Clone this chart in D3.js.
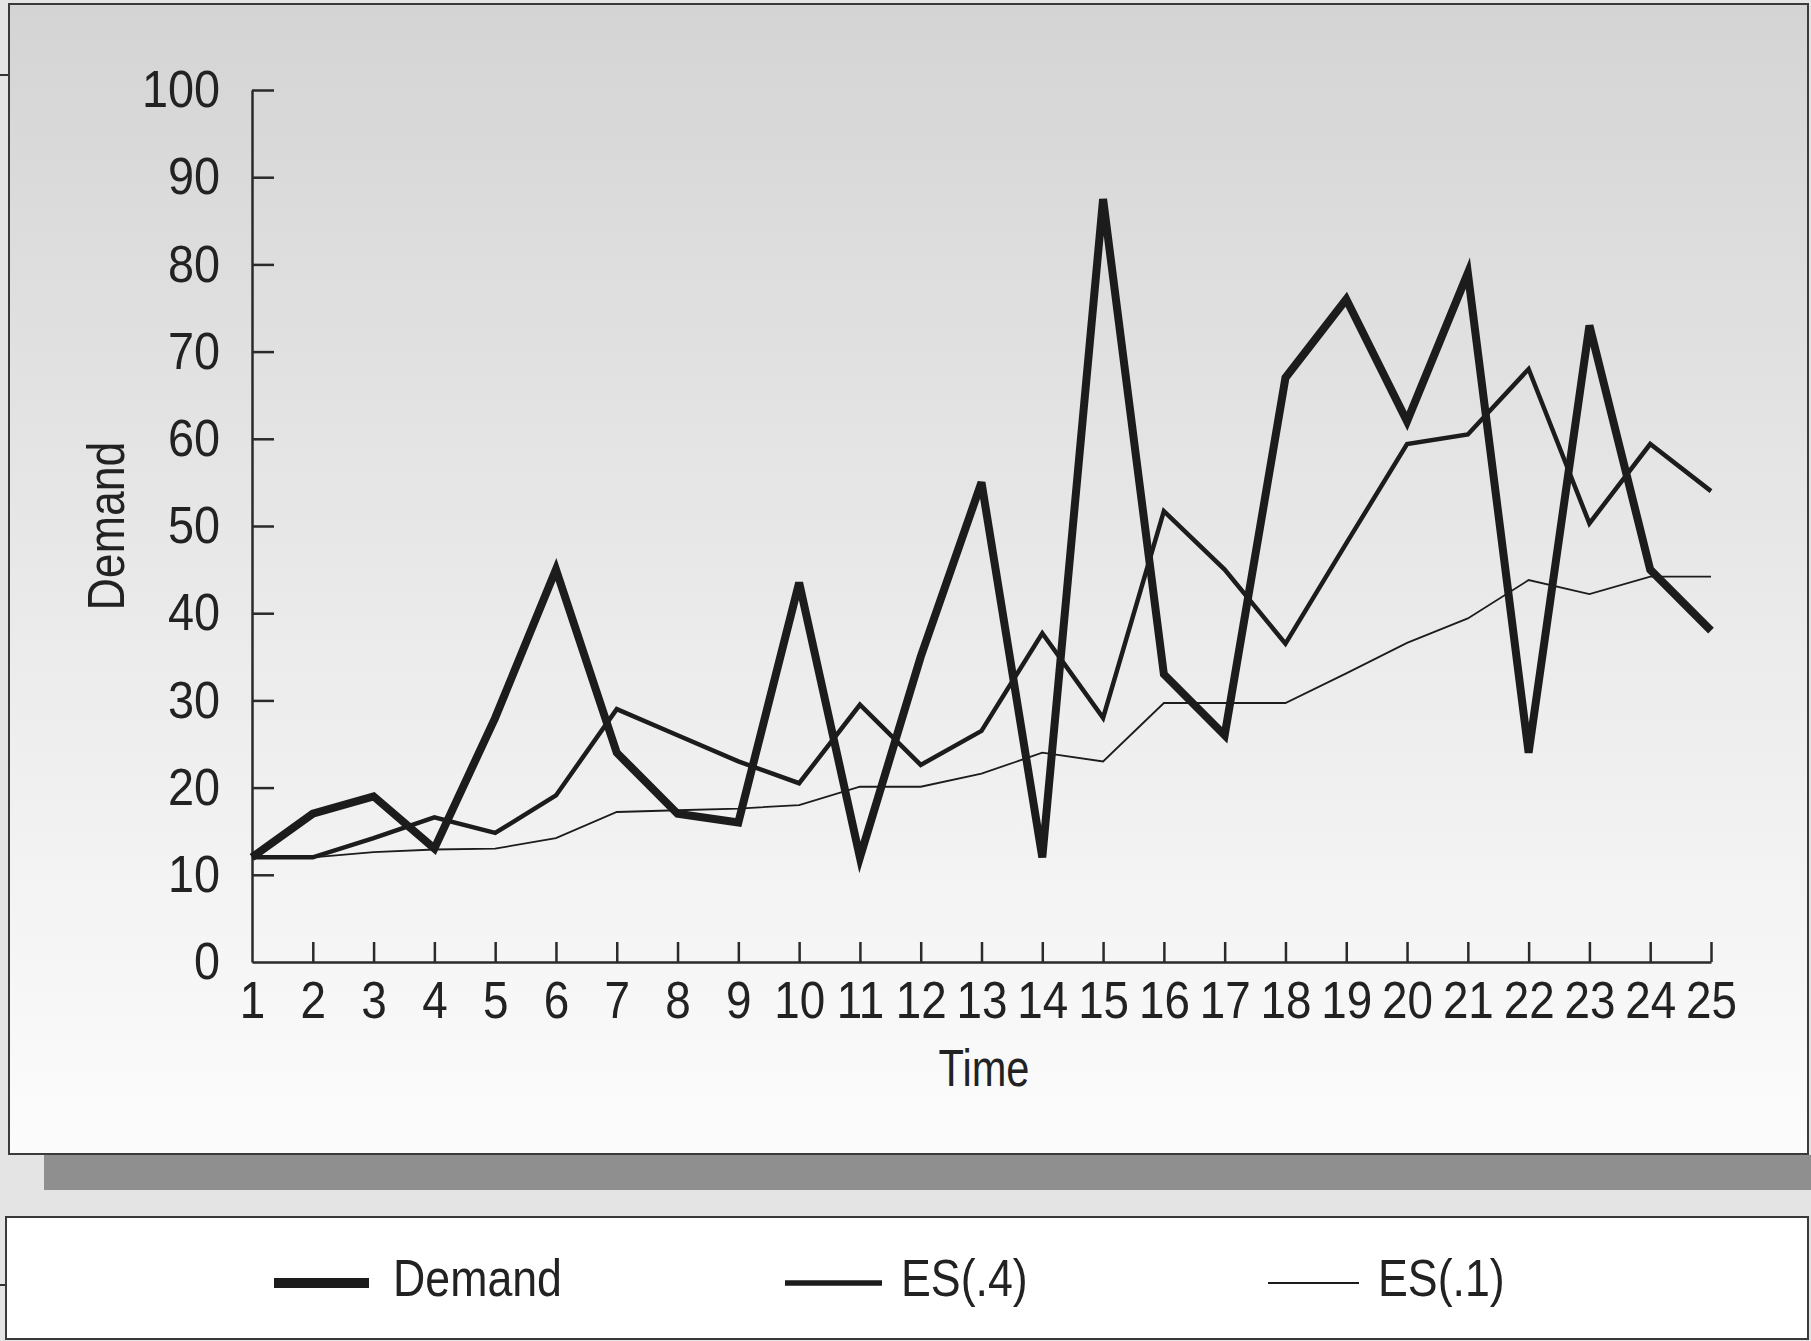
<!DOCTYPE html>
<html>
<head>
<meta charset="utf-8">
<script src="https://cdn.jsdelivr.net/npm/d3@7"></script>
<style>
  html, body { margin: 0; padding: 0; background: #e4e4e4; }
  svg { display: block; }
  text { font-family: "Liberation Sans", Arial, sans-serif; fill: #222; }
</style>
</head>
<body>
<svg id="chart" width="1811" height="1341"></svg>
<script>
// Periods on the time axis
const times = [1, 2, 3, 4, 5, 6, 7, 8, 9, 10, 11, 12, 13, 14, 15, 16, 17, 18, 19, 20, 21, 22, 23, 24, 25];
// Observed demand per period
const demand = [12, 17, 19, 13, 28, 45, 24, 17, 16, 43.5, 12, 35, 55, 12, 87.5, 33, 26, 67, 76, 62, 79, 24, 73, 45, 38];
// Exponential smoothing forecast, alpha = 0.4
const es04 = [12, 12, 14.2, 16.6, 14.8, 19.1, 29, 26, 23, 20.5, 29.5, 22.6, 26.5, 37.7, 28, 51.7, 45, 36.5, 48, 59.4, 60.5, 68, 50.3, 59.4, 54];
// Exponential smoothing forecast, alpha = 0.1
const es01 = [12, 12, 12.6, 12.9, 13, 14.2, 17.2, 17.4, 17.6, 18, 20.1, 20.1, 21.6, 24, 23, 29.7, 29.7, 29.7, 33.1, 36.6, 39.4, 43.8, 42.2, 44.2, 44.2];
// Value axis ticks
const yTicks = [0, 10, 20, 30, 40, 50, 60, 70, 80, 90, 100];

const seriesList = [
  { name: "Demand", values: demand, width: 8, legendWidth: 10 },
  { name: "ES(.4)", values: es04, width: 4.5, legendWidth: 5.5 },
  { name: "ES(.1)", values: es01, width: 1.8, legendWidth: 1.8 }
];

const svg = d3.select("#chart");
const ink = "#1c1c1c";
const FONT_SIZE = 52;

// Squeeze glyphs horizontally for a condensed look
function condense(sel, factor) {
  sel.each(function () {
    const w = this.getComputedTextLength();
    d3.select(this)
      .attr("textLength", (w * factor).toFixed(1))
      .attr("lengthAdjust", "spacingAndGlyphs");
  });
}

// Background gradient of the chart panel
const defs = svg.append("defs");
const grad = defs.append("linearGradient")
  .attr("id", "panelFill").attr("x1", 0).attr("y1", 0).attr("x2", 0).attr("y2", 1);
grad.append("stop").attr("offset", "0%").attr("stop-color", "#d4d4d4");
grad.append("stop").attr("offset", "55%").attr("stop-color", "#ebebeb");
grad.append("stop").attr("offset", "100%").attr("stop-color", "#fcfcfc");

// Drop shadow band under the panel
svg.append("rect")
  .attr("x", 44).attr("y", 1155).attr("width", 1767).attr("height", 35)
  .attr("fill", "#8f8f8f");

// Chart panel
svg.append("rect")
  .attr("x", 9).attr("y", 4).attr("width", 1799).attr("height", 1150)
  .attr("fill", "url(#panelFill)")
  .attr("stroke", "#3a3a3a").attr("stroke-width", 2);

// Small edge marks on the left margin
[75, 1285].forEach(yy => {
  svg.append("line")
    .attr("x1", 0).attr("x2", 9).attr("y1", yy).attr("y2", yy)
    .attr("stroke", "#333").attr("stroke-width", 2);
});

// Scales
const x = d3.scaleLinear().domain([1, 25]).range([252, 1711]);
const y = d3.scaleLinear().domain([0, 100]).range([962, 90]);

// Y axis: ticks pointing inward
const yAxis = svg.append("g")
  .attr("transform", `translate(${x(1)},0)`)
  .call(d3.axisLeft(y).tickValues(yTicks).tickSizeInner(-22).tickSizeOuter(0).tickPadding(32));

// X axis: ticks pointing upward
const xAxis = svg.append("g")
  .attr("transform", `translate(0,${y(0)})`)
  .call(d3.axisBottom(x).tickValues(times).tickFormat(d3.format("d"))
    .tickSizeInner(-20).tickSizeOuter(0).tickPadding(19));

[yAxis, xAxis].forEach(g => {
  g.select(".domain").attr("stroke", "#2a2a2a").attr("stroke-width", 2.5);
  g.selectAll(".tick line").attr("stroke", "#2a2a2a").attr("stroke-width", 2.5);
  g.selectAll(".tick text")
    .attr("font-size", FONT_SIZE)
    .attr("fill", "#222")
    .style("font-family", '"Liberation Sans", Arial, sans-serif');
});
xAxis.selectAll(".tick line").filter(d => d === 1).remove();
yAxis.selectAll(".tick line").filter(d => d === 0).remove();
condense(yAxis.selectAll(".tick text"), 0.9);
condense(xAxis.selectAll(".tick text"), 0.88);

// Axis titles
const yTitle = svg.append("text")
  .attr("transform", `translate(124,${(y(0) + y(100)) / 2}) rotate(-90)`)
  .attr("text-anchor", "middle")
  .attr("font-size", FONT_SIZE)
  .text("Demand");
condense(yTitle, 0.86);

const xTitle = svg.append("text")
  .attr("x", 984).attr("y", 1086)
  .attr("text-anchor", "middle")
  .attr("font-size", FONT_SIZE)
  .text("Time");
condense(xTitle, 0.8);

// Series lines
const line = d3.line()
  .x((d, i) => x(times[i]))
  .y(d => y(d));

// Draw thinnest first so the demand line sits on top
seriesList.slice().reverse().forEach(s => {
  svg.append("path")
    .datum(s.values)
    .attr("d", line)
    .attr("fill", "none")
    .attr("stroke", ink)
    .attr("stroke-width", s.width)
    .attr("stroke-linejoin", "miter")
    .attr("stroke-miterlimit", 4);
});

// Legend box
svg.append("rect")
  .attr("x", 6).attr("y", 1217).attr("width", 1802).attr("height", 122)
  .attr("fill", "#ffffff")
  .attr("stroke", "#3a3a3a").attr("stroke-width", 2);

const legendItems = [
  { lx1: 274, lx2: 369, tx: 393 },
  { lx1: 785, lx2: 882, tx: 901 },
  { lx1: 1268, lx2: 1359, tx: 1378 }
];
const legendY = 1283;
seriesList.forEach((s, i) => {
  const it = legendItems[i];
  svg.append("line")
    .attr("x1", it.lx1).attr("x2", it.lx2)
    .attr("y1", legendY).attr("y2", legendY)
    .attr("stroke", ink).attr("stroke-width", s.legendWidth);
  const t = svg.append("text")
    .attr("x", it.tx).attr("y", 1296)
    .attr("font-size", FONT_SIZE)
    .text(s.name);
  condense(t, 0.86);
});
</script>
</body>
</html>
